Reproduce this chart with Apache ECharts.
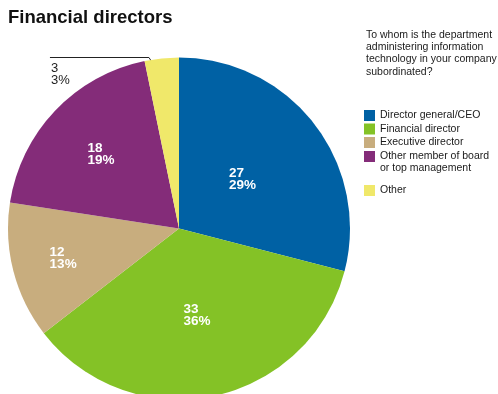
<!DOCTYPE html>
<html>
<head>
<meta charset="utf-8">
<script src="https://cdn.jsdelivr.net/npm/echarts@6/dist/echarts.min.js"></script>
<style>
  html, body { margin: 0; padding: 0; background: #ffffff; }
  #chart { width: 498px; height: 394px; }
</style>
</head>
<body>
<div id="chart"></div>
<script>
// Answers and respondent counts
const categories = [
  'Director general/CEO',
  'Financial director',
  'Executive director',
  'Other member of board or top management',
  'Other'
];
const counts = [27, 33, 12, 18, 3];
const shares = [29, 36, 13, 19, 3];

const questionText = 'To whom is the department\nadministering information\ntechnology in your company\nsubordinated?';

// Styling
const colors = ['#0061a4', '#84c226', '#c8ad7e', '#842c79', '#f0e86a'];
const labelRadius = [0.47, 0.52, 0.70, 0.63, 0.87]; // fraction of radius for each label anchor
const FONT = 'Liberation Sans, Arial, sans-serif';

const CX = 179, CY = 228.5, R = 171, START = 90;
const total = counts.reduce((a, b) => a + b, 0);

function midAngle(i) {
  let before = 0;
  for (let k = 0; k < i; k++) before += counts[k];
  const a0 = START - before / total * 360;
  const a1 = a0 - counts[i] / total * 360;
  return (a0 + a1) / 2 * Math.PI / 180;
}
function polar(i, f) {
  const a = midAngle(i);
  return [CX + Math.cos(a) * f * R, CY - Math.sin(a) * f * R];
}

const chart = echarts.init(document.getElementById('chart'), null, { renderer: 'canvas' });

const pieData = categories.map((name, i) => {
  const item = { name: name, value: counts[i], itemStyle: { color: colors[i] } };
  if (i === categories.length - 1) {
    item.label = { position: 'outside' };
    item.labelLine = { show: true };
  }
  return item;
});

const legendBase = {
  orient: 'vertical',
  left: 364,
  padding: 0,
  icon: 'rect',
  itemWidth: 11, itemHeight: 11, itemGap: 1.5,
  selectedMode: false,
  textStyle: { fontFamily: FONT, fontSize: 10.5, color: '#1a1a1a', lineHeight: 12 }
};

chart.setOption({
  animation: false,
  textStyle: { fontFamily: FONT },
  title: [
    {
      text: 'Financial directors',
      left: 8, top: 8.5, padding: 0,
      textStyle: { fontFamily: FONT, fontSize: 18.5, fontWeight: 'bold', color: '#111' }
    },
    {
      text: questionText,
      left: 366, top: 29, padding: 0,
      textStyle: { fontFamily: FONT, fontSize: 10.5, fontWeight: 'normal', color: '#1a1a1a', lineHeight: 12.2 }
    }
  ],
  legend: [
    Object.assign({}, legendBase, {
      top: 109.5,
      data: categories.slice(0, 3)
    }),
    // two-line entry: a blank first line keeps the swatch level with the first text line
    Object.assign({}, legendBase, {
      top: 138.5,
      data: [categories[3]],
      formatter: function () { return '\nOther member of board\nor top management'; }
    }),
    Object.assign({}, legendBase, {
      top: 184.5,
      data: [categories[4]]
    })
  ],
  series: [{
    type: 'pie',
    center: [CX, CY],
    radius: R,
    startAngle: START,
    clockwise: true,
    avoidLabelOverlap: false,
    emphasis: { disabled: true },
    itemStyle: { borderWidth: 0 },
    label: {
      show: true,
      position: 'inside',
      formatter: function (p) {
        const i = p.dataIndex;
        const st = i === categories.length - 1 ? 'o' : 'v';
        return '{' + st + '|' + counts[i] + '}\n{' + st + '|' + shares[i] + '%}';
      },
      rich: {
        v: { color: '#ffffff', fontFamily: FONT, fontWeight: 'bold', fontSize: 13.5, lineHeight: 12, align: 'left' },
        o: { color: '#222222', fontFamily: FONT, fontWeight: 'normal', fontSize: 13, lineHeight: 12, align: 'left' }
      }
    },
    labelLine: { show: false, lineStyle: { color: '#222', width: 1 } },
    labelLayout: function (p) {
      const i = p.dataIndex;
      if (i === categories.length - 1) {
        const p0 = polar(i, labelRadius[i]);
        const p1 = [p0[0] - 15, CY - R];
        const p2 = [p1[0] - 99, CY - R];
        return {
          x: p2[0] + 1, y: p2[1] + 5,
          align: 'left', verticalAlign: 'top',
          labelLinePoints: [p0, p1, p2]
        };
      }
      const c = polar(i, labelRadius[i]);
      return { x: c[0], y: c[1], align: 'center', verticalAlign: 'middle' };
    },
    data: pieData
  }]
});
</script>
</body>
</html>
